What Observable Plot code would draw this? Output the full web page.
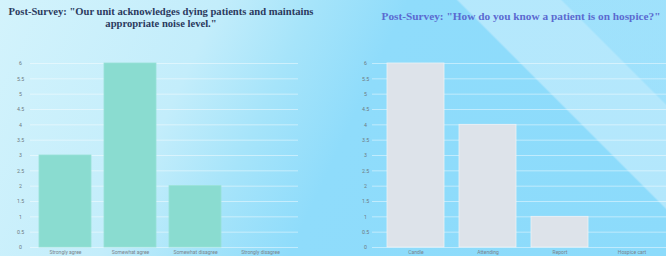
<!DOCTYPE html>
<html>
<head>
<meta charset="utf-8">
<script src="https://cdn.jsdelivr.net/npm/d3@7"></script>
<script src="https://cdn.jsdelivr.net/npm/@observablehq/plot@0.6"></script>
<style>
  html, body { margin: 0; padding: 0; }
  body {
    width: 666px; height: 256px; overflow: hidden; position: relative;
    background:
      linear-gradient(45deg, rgba(255,255,255,0) 77.2%, rgba(255,255,255,0.34) 77.5%, rgba(255,255,255,0.34) 88.5%, rgba(255,255,255,0.16) 88.8%, rgba(255,255,255,0.16) 100%),
      linear-gradient(115deg, #d3f3fc 0%, #c3edfb 28%, #a6e4fa 40%, #8fdcfb 52%, #8cdbfb 100%);
  }
  .title {
    position: absolute; font-family: "Liberation Serif", "Times New Roman", serif;
    font-weight: bold; text-align: center; white-space: nowrap;
  }
  #t1 { left: 0; width: 322px; top: 6px; font-size: 10.6px; line-height: 12px; color: #2b3a5e; }
  #t2 { left: 379px; width: 284px; top: 10px; font-size: 11.3px; line-height: 13px; color: #5b6ad0; }
  #c1 { position: absolute; left: 0; top: 0; width: 333px; }
  #c2 { position: absolute; left: 333px; top: 0; width: 336px; }
</style>
</head>
<body>
<div class="title" id="t1">Post-Survey: "Our unit acknowledges dying patients and maintains<br>appropriate noise level."</div>
<div class="title" id="t2">Post-Survey: "How do you know a patient is on hospice?"</div>
<div id="c1"></div>
<div id="c2"></div>
<script>
const leftCats = ["Strongly agree", "Somewhat agree", "Somewhat disagree", "Strongly disagree"];
const leftVals = [3, 6, 2, 0];
const rightCats = ["Candle", "Attending", "Report", "Hospice cart"];
const rightVals = [6, 4, 1, 0];
const yTicks = [0, 0.5, 1, 1.5, 2, 2.5, 3, 3.5, 4, 4.5, 5, 5.5, 6];

function chart(cats, vals, opts) {
  const data = cats.map((c, i) => ({cat: c, val: vals[i]}));
  return Plot.plot({
    width: opts.width,
    height: 256,
    marginTop: 63,
    marginBottom: 9,
    marginLeft: opts.marginLeft,
    marginRight: opts.marginRight,
    insetLeft: opts.insetLeft,
    insetRight: opts.insetRight,
    style: {background: "transparent", fontFamily: "Roboto, sans-serif"},
    x: {domain: cats, paddingInner: opts.padding, paddingOuter: 0.1, align: 0.5},
    y: {domain: [0, 6]},
    marks: [
      Plot.gridY(yTicks, {stroke: "white", strokeOpacity: 0.45, strokeWidth: 1}),
      Plot.barY(data, {x: "cat", y: "val", fill: opts.fill, stroke: opts.stroke, strokeWidth: 0.8}),
      Plot.axisY(yTicks, {tickSize: 0, tickPadding: opts.tickPad, textAnchor: "middle", fontSize: 5.2, fill: "#6e7880", label: null, tickFormat: d => String(d)}),
      Plot.axisX({tickSize: 0, tickPadding: 3, fontSize: 5, fill: "#7a848c", label: null})
    ]
  });
}

document.getElementById("c1").append(chart(leftCats, leftVals, {
  width: 333, marginLeft: 30, marginRight: 35, insetLeft: 1.5, insetRight: 4.5, tickPad: 10,
  padding: 0.2, fill: "#8adcd0", stroke: "#97e2d6"
}));
document.getElementById("c2").append(chart(rightCats, rightVals, {
  width: 336, marginLeft: 39, marginRight: 0, insetLeft: 6.7, insetRight: 0.3, tickPad: 7,
  padding: 0.21, fill: "#dde3ea", stroke: "#eef2f6"
}));
</script>
</body>
</html>
